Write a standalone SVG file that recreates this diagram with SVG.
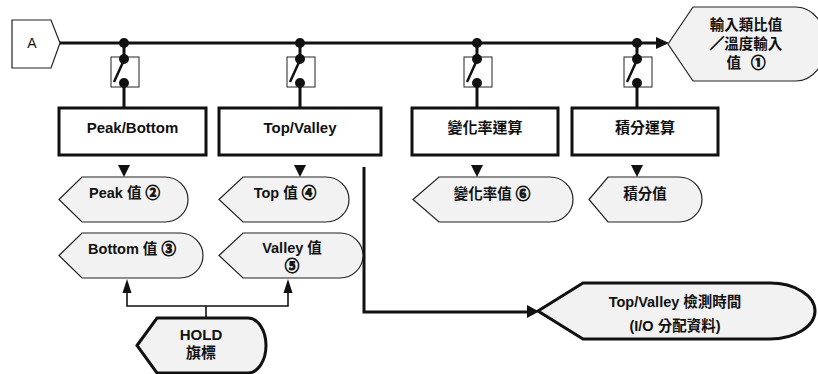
<svg xmlns="http://www.w3.org/2000/svg" width="818" height="374" viewBox="0 0 818 374">
<style>
text{font-family:"Liberation Sans","Noto Sans CJK TC",sans-serif;fill:#111;text-anchor:middle}
.b{font-weight:bold;font-size:15px}
.d{font-weight:bold;font-size:14.5px}
.hv{stroke:#111;stroke-width:0.8}
.box{fill:#fff;stroke:#111;stroke-width:3}
.disp{fill:#f2f2f2;stroke:#222;stroke-width:1.2}
.dispT{fill:#f2f2f2;stroke:#111;stroke-width:3}
.bus{fill:none;stroke:#111;stroke-width:3}
.thin{fill:none;stroke:#111;stroke-width:1.6}
.sw{fill:#fff;stroke:#222;stroke-width:1}
.dot{fill:#111}
.ah{fill:#111}
</style>
<defs>
<g id="switch">
<line x1="0" y1="43" x2="0" y2="59" stroke="#111" stroke-width="3"/>
<rect x="-13" y="57" width="28" height="30" class="sw"/>
<circle cx="0" cy="43" r="5" class="dot"/>
<circle cx="0" cy="59" r="5" class="dot"/>
<circle cx="0" cy="83" r="5" class="dot"/>
<line x1="-10" y1="82" x2="0" y2="60" stroke="#111" stroke-width="2.5"/>
<line x1="0" y1="83" x2="0" y2="108" stroke="#111" stroke-width="3"/>
<path d="M-6 165 L6 165 L0 177 Z" class="ah"/>
</g>
</defs>

<g id="input-A">
<path d="M12 20 L51 20 L60 43 L51 68 L12 68 Z" fill="#fff" stroke="#222" stroke-width="1.2"/>
<text x="32" y="48" style="font-size:14px">A</text>
</g>

<g id="connectors">
<line x1="60" y1="43" x2="658" y2="43" class="bus"/>
<path d="M656 37 L669 43 L656 49 Z" class="ah"/>
<use href="#switch" x="124"/>
<use href="#switch" x="300"/>
<use href="#switch" x="477"/>
<use href="#switch" x="637"/>
<path d="M364 167 L364 312 L530 312" class="bus"/>
<path d="M527 305 L539 311.5 L527 318 Z" class="ah"/>
<path d="M206 318 L206 306 M127 293 L127 306 L288 306 L288 293" class="thin"/>
<path d="M122.5 293 L131.5 293 L127 279 Z" class="ah"/>
<path d="M283.5 293 L292.5 293 L288 279 Z" class="ah"/>
</g>

<g id="out1">
<path d="M668 44 L693 7 L796 7 A30 37 0 0 1 796 81 L693 81 Z" class="disp"/>
<text class="d" x="746" y="29.5">輸入類比值</text>
<text class="d" x="746" y="48.5"><tspan class="hv">／</tspan>溫度輸入</text>
<text class="d" x="746" y="67.5">值<tspan dx="10" class="hv">①</tspan></text>
</g>

<g id="box-peakbottom">
<rect x="59" y="108" width="147" height="47" class="box"/>
<text class="b" x="132.5" y="132.5">Peak/Bottom</text>
</g>
<g id="box-topvalley">
<rect x="219" y="108" width="162" height="47" class="box"/>
<text class="b" x="300" y="132.5">Top/Valley</text>
</g>
<g id="box-rate">
<rect x="412" y="108" width="146" height="47" class="box"/>
<text class="b" x="485" y="133">變化率運算</text>
</g>
<g id="box-integral">
<rect x="572" y="108" width="146" height="47" class="box"/>
<text class="b" x="645" y="133">積分運算</text>
</g>

<g id="peak-val">
<path d="M59 199.5 L82 177 L165 177 A23 22.5 0 0 1 165 222 L82 222 Z" class="disp"/>
<text class="d" x="124.5" y="198">Peak 值 <tspan class="hv">②</tspan></text>
</g>
<g id="top-val">
<path d="M219 199.5 L243 177 L326 177 A23 22.5 0 0 1 326 222 L243 222 Z" class="disp"/>
<text class="d" x="285" y="198">Top 值 <tspan class="hv">④</tspan></text>
</g>
<g id="rate-val">
<path d="M413 199.5 L439 177 L550 177 A23 22.5 0 0 1 550 222 L439 222 Z" class="disp"/>
<text class="d" x="492" y="198.5">變化率值 <tspan class="hv">⑥</tspan></text>
</g>
<g id="integral-val">
<path d="M589 199.5 L608 177 L679 177 A23 22.5 0 0 1 679 222 L608 222 Z" class="disp"/>
<text class="d" x="645" y="198.5">積分值</text>
</g>
<g id="bottom-val">
<path d="M59 255.5 L82 233 L180 233 A23 22.5 0 0 1 180 278 L82 278 Z" class="disp"/>
<text class="d" x="132" y="253.5">Bottom 值 <tspan class="hv">③</tspan></text>
</g>
<g id="valley-val">
<path d="M219 255.5 L243 233 L340 233 A23 22.5 0 0 1 340 278 L243 278 Z" class="disp"/>
<text class="d" x="292" y="253">Valley 值</text>
<text class="d hv" x="292" y="270.5">⑤</text>
</g>

<g id="tv-time">
<path d="M538 311 L583 283 L770 283 A45 28 0 0 1 770 339 L583 339 Z" class="dispT"/>
<text class="d" x="675" y="307">Top/Valley 檢測時間</text>
<text class="d" x="675" y="330.5">(I/O 分配資料)</text>
</g>

<g id="hold">
<path d="M137 345.5 L157 318 L248 318 A18 27.5 0 0 1 248 373 L157 373 Z" class="dispT"/>
<text class="b" x="201" y="339.5">HOLD</text>
<text class="b" x="201" y="357.5">旗標</text>
</g>
</svg>
